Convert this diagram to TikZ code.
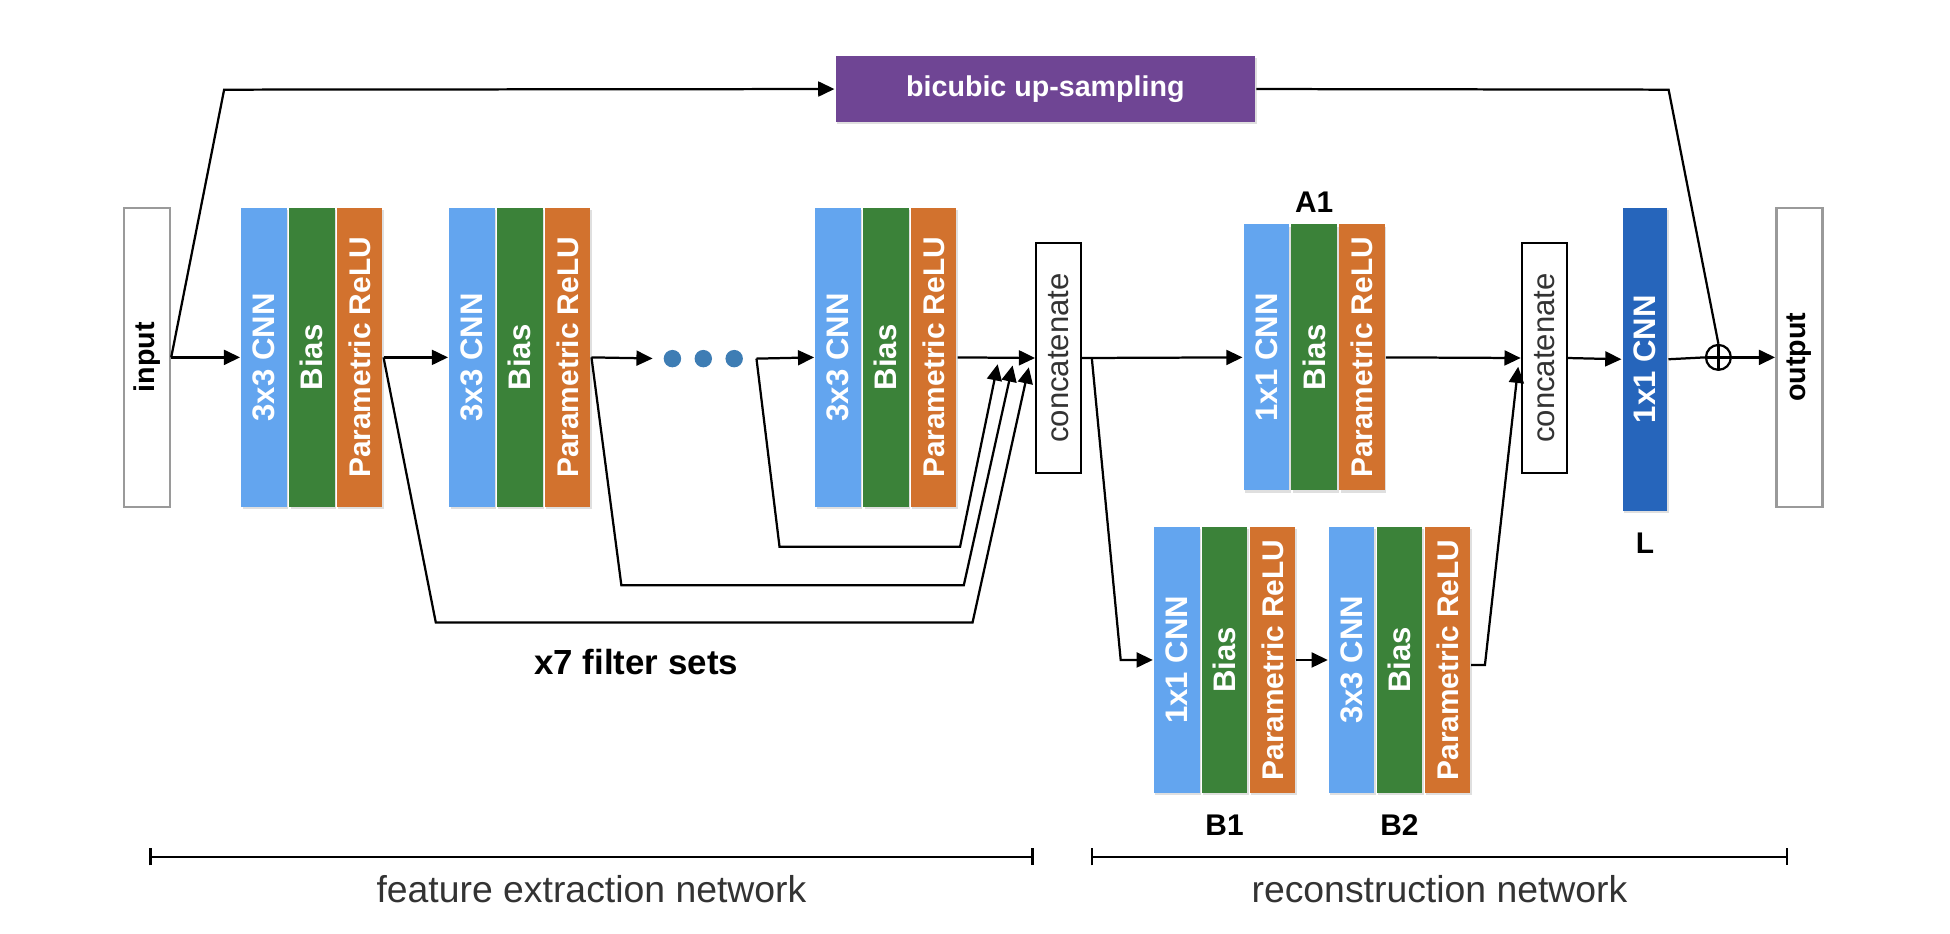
\documentclass[tikz,border=0pt]{standalone}
\usepackage{fontspec}
\setmainfont{Liberation Sans}
\usetikzlibrary{arrows.meta,calc,positioning,shadows}
\definecolor{cnnblue}{HTML}{63A5EF}
\definecolor{biasgreen}{HTML}{3B8239}
\definecolor{reluorange}{HTML}{D2722E}
\definecolor{convblue}{HTML}{2665BB}
\definecolor{upviolet}{HTML}{6F4594}
\definecolor{dotblue}{HTML}{3E7DB4}
\definecolor{iogray}{HTML}{9A9A9A}
\definecolor{textgray}{HTML}{333333}

\begin{document}
\begin{tikzpicture}[
    x=0.5pt, y=-0.5pt,
    >={Triangle[length=6.5pt,width=6pt]},
    line width=0.9pt,
    strip/.style={minimum width=18.3pt, minimum height=120pt, inner sep=0pt,
      text=white, font=\fontsize{12.5}{14}\selectfont\bfseries,
      drop shadow={shadow xshift=0.6pt, shadow yshift=-0.9pt, opacity=0.25}},
    cnn/.style={strip, fill=cnnblue},
    bias/.style={strip, fill=biasgreen},
    relu/.style={strip, fill=reluorange,
      font=\fontsize{12}{14}\selectfont\bfseries},
    short/.style={minimum height=106.75pt},
    iobox/.style={draw=iogray, line width=1pt, fill=white, minimum width=18.5pt,
      minimum height=120pt, inner sep=0pt,
      font=\fontsize{11.5}{14}\selectfont\bfseries},
    catbox/.style={draw, line width=0.8pt, fill=white, minimum width=18pt,
      minimum height=92.5pt, inner sep=0pt, text=textgray,
      font=\fontsize{12.5}{14}\selectfont},
    dot/.style={circle, fill=dotblue, minimum size=7pt, inner sep=0pt},
    tag/.style={inner sep=0pt, font=\fontsize{12}{14}\selectfont\bfseries},
    netlabel/.style={inner sep=0pt, text=textgray,
      font=\fontsize{15}{18}\selectfont},
  ]
  \useasboundingbox (0,0) rectangle (1566,750);
  % input and output
  \node [iobox] (input) at (118,287) {\rotatebox{90}{input}};
  \node [iobox] (output) at (1445,287) {\rotatebox{90}{output}};
  % upsampling branch
  \node [fill=upviolet, text=white, minimum width=168.5pt, minimum height=26.5pt,
    font=\fontsize{11.5}{14}\selectfont\bfseries,
    drop shadow={shadow xshift=0.6pt, shadow yshift=-0.9pt, opacity=0.25}]
    (bicubic) at (839.5,71.5) {bicubic up-sampling}
  ;
  % feature extraction blocks
  \node [cnn] (cnn1) at (212,287) {\rotatebox{90}{3x3 CNN}};
  \node [bias, right=0pt of cnn1] (bias1) {\rotatebox{90}{Bias}};
  \node [relu, right=0pt of bias1] (relu1) {\rotatebox{90}{Parametric ReLU}};
  \node [cnn] (cnn2) at (379,287) {\rotatebox{90}{3x3 CNN}};
  \node [bias, right=0pt of cnn2] (bias2) {\rotatebox{90}{Bias}};
  \node [relu, right=0pt of bias2] (relu2) {\rotatebox{90}{Parametric ReLU}};
  \node [dot] (dot1) at (540,288) {};
  \node [dot, right=4.5pt of dot1] (dot2) {};
  \node [dot, right=4.5pt of dot2] (dot3) {};
  \coordinate (dotsout) at ([xshift=5pt]dot3.east);
  \node [cnn] (cnn3) at (673,287) {\rotatebox{90}{3x3 CNN}};
  \node [bias, right=0pt of cnn3] (bias3) {\rotatebox{90}{Bias}};
  \node [relu, right=0pt of bias3] (relu3) {\rotatebox{90}{Parametric ReLU}};
  \node [catbox] (cat1) at (850,287.5) {\rotatebox{90}{concatenate}};
  % reconstruction blocks
  \node [cnn,short] (cnnA) at (1017,287) {\rotatebox{90}{1x1 CNN}};
  \node [bias,short, right=0pt of cnnA] (biasA) {\rotatebox{90}{Bias}};
  \node [relu,short, right=0pt of biasA] (reluA) {\rotatebox{90}{Parametric ReLU}};
  \node [cnn,short] (cnnB1) at (945,530) {\rotatebox{90}{1x1 CNN}};
  \node [bias,short, right=0pt of cnnB1] (biasB1) {\rotatebox{90}{Bias}};
  \node [relu,short, right=0pt of biasB1] (reluB1) {\rotatebox{90}{Parametric ReLU}};
  \node [cnn,short] (cnnB2) at (1085.5,530) {\rotatebox{90}{3x3 CNN}};
  \node [bias,short, right=0pt of cnnB2] (biasB2) {\rotatebox{90}{Bias}};
  \node [relu,short, right=0pt of biasB2] (reluB2) {\rotatebox{90}{Parametric ReLU}};
  \node [catbox] (cat2) at (1240,287.5) {\rotatebox{90}{concatenate}};
  \node [strip, fill=convblue, minimum width=18pt, minimum height=121.5pt]
    (convL) at (1321,288.5) {\rotatebox{90}{1x1 CNN}}
  ;
  \node [draw, circle, minimum size=10pt, inner sep=0pt,
    path picture={\draw (path picture bounding box.north)
      -- (path picture bounding box.south)
      (path picture bounding box.west) -- (path picture bounding box.east);}]
    (plus) at (1380,287) {}
  ;
  % tags
  \node [tag, above=4pt of biasA] (tagA1) {A1};
  \node [tag, below=8pt of biasB1] (tagB1) {B1};
  \node [tag, below=8pt of biasB2] (tagB2) {B2};
  \node [tag, below=8pt of convL] (tagL) {L};
  \node [inner sep=0pt, font=\fontsize{14}{16}\selectfont\bfseries]
    (filters) at (511,532) {x7 filter sets}
  ;
  % main path
  \draw [->] (input.east) -- (cnn1.west);
  \draw [->] (relu1.east) -- (cnn2.west);
  \draw [->,shorten >=4pt] (relu2.east) -- (dot1.west);
  \draw [->] (dotsout) -- (cnn3.west);
  \draw [->] (relu3.east) -- (cat1.west);
  \draw [->] (cat1.east) -- (cnnA.west);
  \draw [->] (reluA.east) -- (cat2.west);
  \draw [->] (cat2.east) -- (convL.west);
  \draw (convL.east) -- (plus.west);
  \draw [->] (plus.east) -- (output.west);
  % skip connections
  \coordinate (skip1) at ($(cat1.west)+(-5,7.5)$);
  \coordinate (skip2) at ($(cat1.west)+(-18,6)$);
  \coordinate (skip3) at ($(cat1.west)+(-30,5)$);
  \draw [->]
    (relu1.east)
    -- (350,500)
    -- (781,500)
    -- (skip1)
  ;
  \draw [->]
    (relu2.east)
    -- (499,470)
    -- (774,470)
    -- (skip2)
  ;
  \draw [->]
    (dotsout)
    -- (626,439)
    -- (771,439)
    -- (skip3)
  ;
  % branch B
  \coordinate (splitB) at ($(cat1.east)+(8,0)$);
  \coordinate (joinB) at ($(cat2.west)+(-2,7)$);
  \draw [->]
    (splitB)
    -- (900,530)
    -- (cnnB1.west)
  ;
  \draw [->] (reluB1.east) -- (cnnB2.west);
  \draw [->]
    ([yshift=-2pt]reluB2.east)
    -- ++(5.5pt,0)
    -- (joinB)
  ;
  % upsampling path
  \draw [->]
    (input.east)
    -- (180,72)
    -- (bicubic.west)
  ;
  \draw
    (bicubic.east)
    -- (1340,72)
    -- (plus.north)
  ;
  % network ranges
  \coordinate (fe1) at (120,688);
  \coordinate (fe2) at (830,688);
  \coordinate (rn1) at (876,688);
  \coordinate (rn2) at (1436,688);
  \draw [{Bar[width=7pt]}-{Bar[width=7pt]}]
    (fe1)
    -- (fe2)
    node [netlabel, midway, below=7pt] (felabel) {feature extraction network}
  ;
  \draw [{Bar[width=7pt]}-{Bar[width=7pt]}]
    (rn1)
    -- (rn2)
    node [netlabel, midway, below=7pt] (rnlabel) {reconstruction network}
  ;
\end{tikzpicture}
\end{document}
